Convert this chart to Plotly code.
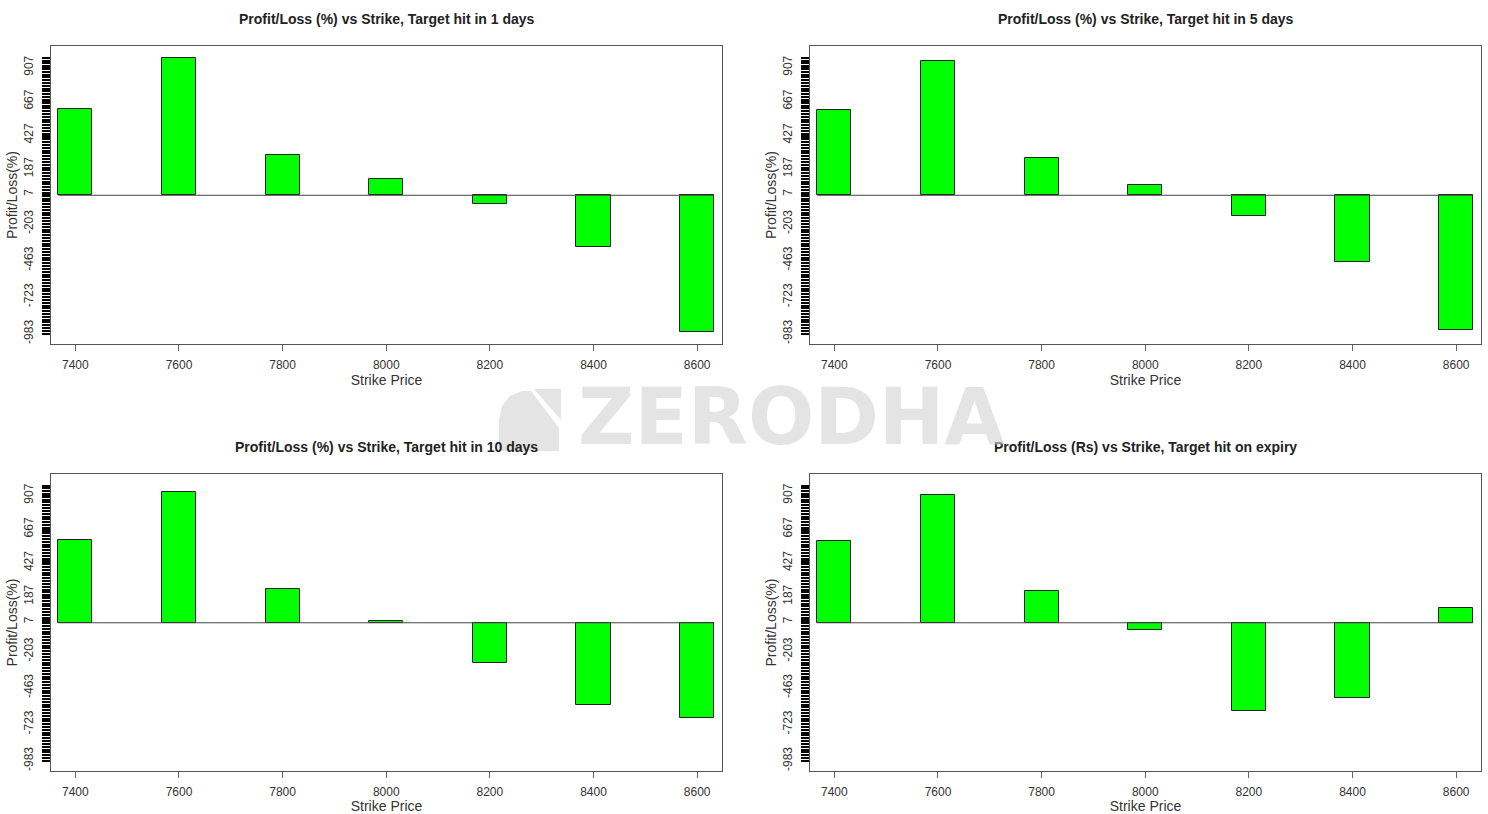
import numpy as np
import plotly.graph_objects as go

W, H = 1488, 814

strikes = [7400, 7600, 7800, 8000, 8200, 8400, 8600]
pl_1day = [614, 977, 285, 116, -59, -370, -970]
pl_5day = [606, 954, 266, 74, -147, -473, -954]
pl_10day = [593, 933, 238, 12, -283, -583, -678]
pl_expiry = [583, 909, 228, -52, -626, -536, 102]

titles = [
    "Profit/Loss (%) vs Strike, Target hit in 1 days",
    "Profit/Loss (%) vs Strike, Target hit in 5 days",
    "Profit/Loss (%) vs Strike, Target hit in 10 days",
    "Profit/Loss (Rs) vs Strike, Target hit on expiry",
]
series = [pl_1day, pl_5day, pl_10day, pl_expiry]

y_ticks = [-983, -723, -463, -203, 7, 187, 427, 667, 907]
y_minor = list(np.arange(-983, 988, 20))
x_ticks = strikes

BAR_W = 66
FONT = "Liberation Sans, Arial, sans-serif"


def px_x(p):
    return p / W


def px_y(p):
    return 1 - p / H


# plot-area boxes in pixels: (left, right, top, bottom)
boxes = [(51, 722, 46, 344), (810, 1481, 46, 344), (51, 722, 474, 771), (810, 1481, 474, 771)]

fig = go.Figure()

for i, (vals, box) in enumerate(zip(series, boxes)):
    n = "" if i == 0 else str(i + 1)
    fig.add_trace(
        go.Bar(
            x=strikes,
            y=vals,
            width=BAR_W,
            marker=dict(color="#00ff00", line=dict(color="#222222", width=1)),
            xaxis="x" + n,
            yaxis="y" + n,
            showlegend=False,
        )
    )
    # baseline across the bars
    fig.add_trace(
        go.Scatter(
            x=[strikes[0] - BAR_W / 2, strikes[-1] + BAR_W / 2],
            y=[0, 0],
            mode="lines",
            line=dict(color="#444444", width=1),
            xaxis="x" + n,
            yaxis="y" + n,
            showlegend=False,
            hoverinfo="skip",
        )
    )
    l, r, t, b = box
    fig.layout["xaxis" + n] = dict(
        domain=[px_x(l), px_x(r)],
        anchor="y" + n,
        range=[7353, 8648],
        tickvals=x_ticks,
        ticks="outside",
        ticklen=6,
        tickcolor="#666666",
        ticklabelstandoff=4,
        tickfont=dict(size=12, color="#333333", family=FONT),
        showline=True,
        mirror=True,
        linecolor="#555555",
        linewidth=1,
        showgrid=False,
        zeroline=False,
        title=dict(text="Strike Price", font=dict(size=14, color="#333333", family=FONT), standoff=0),
    )
    fig.layout["yaxis" + n] = dict(
        domain=[px_y(b), px_y(t)],
        anchor="x" + n,
        range=[-1056, 1060],
        tickvals=y_ticks,
        ticktext=[str(v) for v in y_ticks],
        tickangle=-90,
        ticks="outside",
        ticklen=8,
        tickwidth=2,
        tickcolor="#000000",
        minor=dict(tickvals=y_minor, ticks="outside", ticklen=8, tickwidth=2.4, tickcolor="#000000"),
        ticklabelstandoff=4,
        tickfont=dict(size=12, color="#333333", family=FONT),
        showline=True,
        mirror=True,
        linecolor="#555555",
        linewidth=1,
        showgrid=False,
        zeroline=False,
        title=dict(text="Profit/Loss(%)", font=dict(size=14, color="#333333", family=FONT), standoff=1),
    )
    fig.add_annotation(
        x=px_x((l + r) / 2),
        y=px_y(t - 27),
        xref="paper",
        yref="paper",
        text="<b>" + titles[i] + "</b>",
        showarrow=False,
        font=dict(size=14, color="#222222", family=FONT),
        xanchor="center",
        yanchor="middle",
    )

# watermark
fig.add_annotation(
    x=px_x(791),
    y=px_y(417),
    xref="paper",
    yref="paper",
    text="<b>ZERODHA</b>",
    showarrow=False,
    font=dict(size=78, color="rgba(210,210,210,0.6)", family="DejaVu Sans"),
    xanchor="center",
    yanchor="middle",
)


def logo_path(pts):
    return "M " + " L ".join(f"{px_x(x):.4f},{px_y(y):.4f}" for x, y in pts) + " Z"


logo_main = [(499, 451), (499, 420), (502, 406), (510, 396), (522, 391), (531, 391), (559, 428), (559, 451)]
logo_tri = [(534, 389), (561, 389), (561, 420)]
for pts in (logo_main, logo_tri):
    fig.add_shape(
        type="path",
        path=logo_path(pts),
        xref="paper",
        yref="paper",
        fillcolor="rgba(210,210,210,0.6)",
        line=dict(width=0),
    )

fig.update_layout(
    width=W,
    height=H,
    margin=dict(l=0, r=0, t=0, b=0),
    plot_bgcolor="white",
    paper_bgcolor="white",
    font=dict(family=FONT),
    bargap=0,
)

fig.write_html(
    "out.html",
    config={"displayModeBar": False},
    post_script="document.body.style.margin='0';",
)
